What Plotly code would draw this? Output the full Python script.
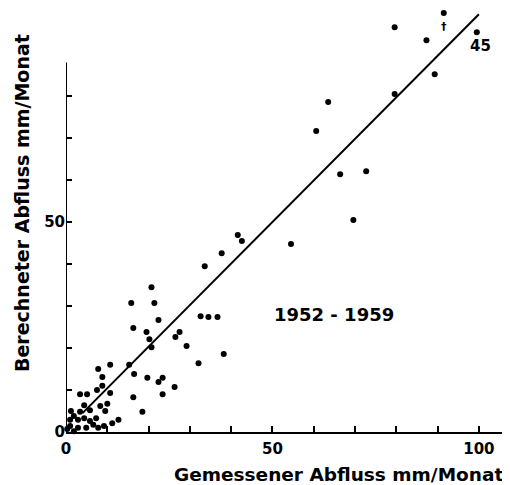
import plotly.graph_objects as go

# measured runoff (x) vs computed runoff (y), mm/Monat
gemessen = [79.6, 91.5, 87.3, 99.5, 89.3, 79.6, 63.5, 60.6, 66.4, 72.7, 69.6, 54.5,
            41.6, 42.6, 37.7, 33.6, 32.6, 34.5, 36.7, 38.2, 32.1, 20.7, 15.8, 21.4,
            22.4, 16.3, 19.5, 20.2, 20.7, 27.5, 26.5, 29.2, 10.7, 15.3, 7.8, 8.8,
            16.5, 19.7, 23.4, 22.4, 26.3, 8.8, 7.5, 23.4, 16.3, 10.7, 3.4, 5.1,
            10.0, 9.5, 18.5, 1.2, 12.7,
            4.4, 5.8, 3.4, 1.9, 1.0, 2.9, 4.4, 5.8, 7.3, 6.6, 1.0, 2.9, 4.9, 7.8,
            9.2, 0.3, 1.9, 8.3, 11.2]
berechnet = [96.4, 99.8, 93.3, 95.2, 85.2, 80.5, 78.6, 71.7, 61.4, 62.1, 50.5, 44.8,
             46.9, 45.5, 42.6, 39.5, 27.6, 27.4, 27.4, 18.6, 16.4, 34.5, 30.7, 30.7,
             26.7, 24.8, 23.8, 22.1, 20.2, 23.8, 22.6, 20.5, 16.0, 16.0, 15.0, 13.1,
             13.8, 12.9, 12.9, 11.9, 10.7, 11.0, 10.0, 9.0, 8.3, 9.3, 9.0, 9.0,
             6.7, 5.0, 4.8, 5.0, 2.9,
             6.4, 5.2, 4.8, 3.8, 2.9, 2.9, 3.3, 2.6, 3.3, 1.7, 1.4, 1.0, 1.0, 1.0,
             1.4, 0.7, 0.2, 6.2, 2.1]

# regression line
linie_x = [4.0, 100.0]
linie_y = [4.5, 99.5]

x_ticks = [0, 10, 20, 30, 40, 50, 60, 70, 80, 90, 100]
x_ticktext = ["0", "", "", "", "", "50", "", "", "", "", "100"]
y_ticks = [0, 10, 20, 30, 40, 50, 60, 70, 80]
y_ticktext = ["0", "", "", "", "", "50", "", "", ""]
y_axis_end = 88

FONT = "DejaVu Sans"

fig = go.Figure()
fig.add_trace(go.Scatter(x=linie_x, y=linie_y, mode="lines",
                         line=dict(color="black", width=2), showlegend=False,
                         hoverinfo="skip", cliponaxis=False))
fig.add_trace(go.Scatter(x=gemessen, y=berechnet, mode="markers",
                         marker=dict(color="black", size=6), showlegend=False,
                         cliponaxis=False))

# y axis line (stops below top of data)
fig.add_shape(type="line", x0=0, x1=0, y0=0, y1=y_axis_end, xref="x", yref="y",
              line=dict(color="black", width=2))

fig.add_annotation(x=65, y=27.9, text="1952 - 1959", showarrow=False,
                   font=dict(family=FONT, size=18, color="black", weight="bold"))
fig.add_annotation(x=100.3, y=92.0, text="45", showarrow=False,
                   font=dict(family=FONT, size=15, color="black", weight="bold"))
fig.add_annotation(x=91.5, y=96.5, text="†", showarrow=False,
                   font=dict(family=FONT, size=11, color="black", weight="bold"))

fig.add_annotation(xref="paper", yref="paper", x=0.625, y=0, yshift=-42,
                   xanchor="center", yanchor="middle",
                   text="Gemessener Abfluss mm/Monat", showarrow=False,
                   font=dict(family=FONT, size=18.5, color="black", weight="bold"))
fig.add_annotation(xref="paper", yref="paper", x=0, y=0.54, xshift=-44,
                   xanchor="center", yanchor="middle",
                   text="Berechneter Abfluss mm/Monat", showarrow=False, textangle=-90,
                   font=dict(family=FONT, size=19, color="black", weight="bold"))

fig.update_layout(
    width=502, height=477,
    margin=dict(l=58, r=8, t=0, b=53),
    paper_bgcolor="white", plot_bgcolor="white",
    xaxis=dict(range=[0, 105.6], showgrid=False, zeroline=False, automargin=False,
               showline=True, linecolor="black", linewidth=2,
               ticks="inside", ticklen=6, tickwidth=1.5, tickcolor="black",
               tickvals=x_ticks, ticktext=x_ticktext, ticklabelstandoff=2,
               tickfont=dict(family=FONT, size=15, color="black", weight="bold")),
    yaxis=dict(range=[0, 101], showgrid=False, zeroline=False, showline=False,
               automargin=False,
               ticks="inside", ticklen=6, tickwidth=1.5, tickcolor="black",
               tickvals=y_ticks, ticktext=y_ticktext,
               tickfont=dict(family=FONT, size=15, color="black", weight="bold")),
)

fig.write_html("out.html")
